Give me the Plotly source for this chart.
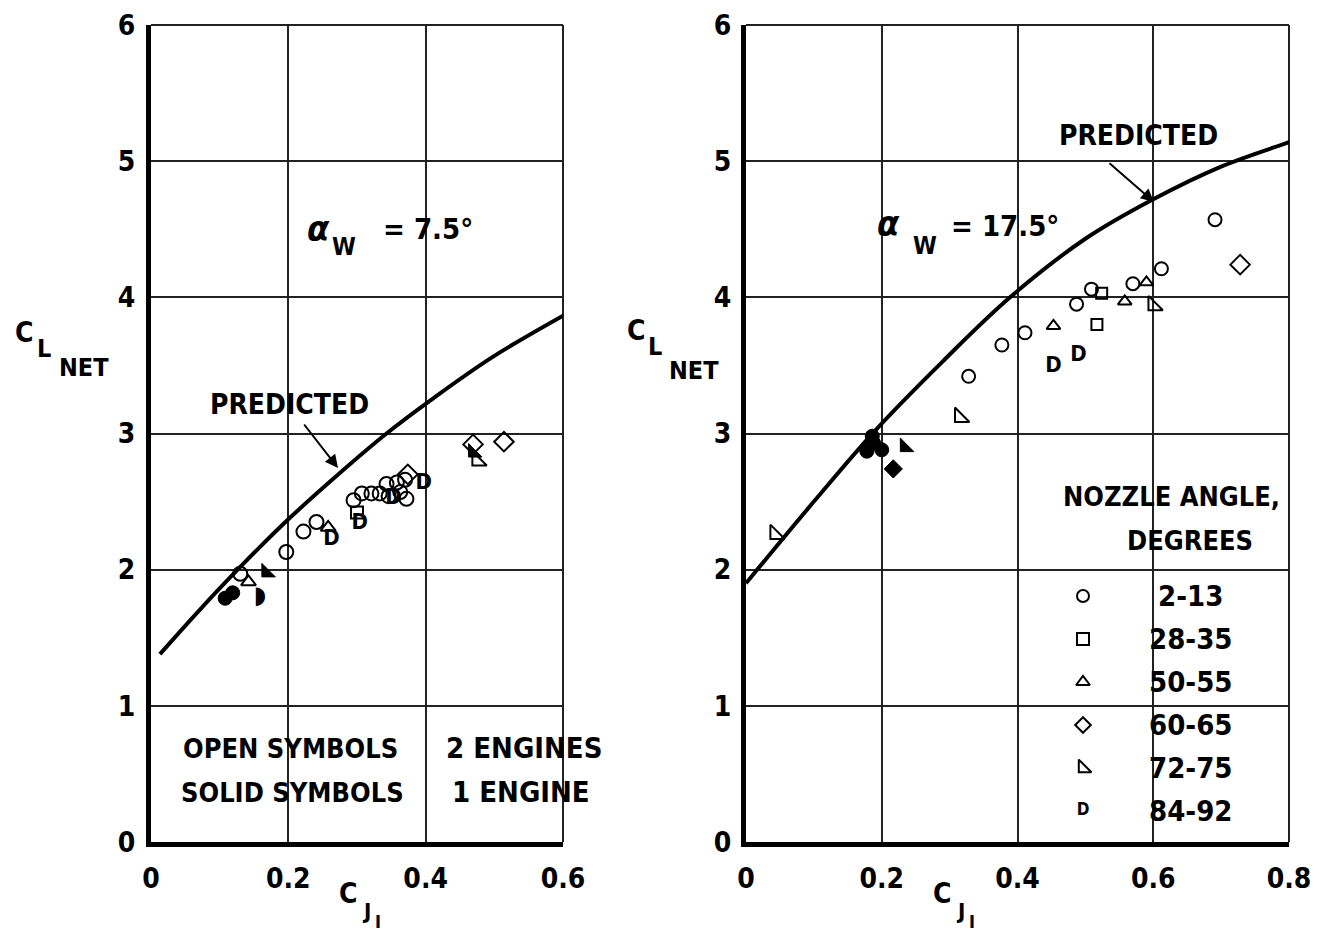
import plotly.graph_objects as go

W, H = 1326, 935
FONT = "DejaVu Sans Condensed, DejaVu Sans, sans-serif"

# ---------------- data: left panel (alpha_w = 7.5 deg) ----------------
a_pred_x = [0.013, 0.07, 0.13, 0.20, 0.275, 0.343, 0.406, 0.50, 0.623]
a_pred_y = [1.38, 1.70, 2.02, 2.37, 2.71, 3.00, 3.24, 3.57, 3.93]

a_circle_x = [0.130, 0.197, 0.222, 0.241, 0.295, 0.307, 0.321, 0.333, 0.346, 0.343, 0.358, 0.363, 0.372, 0.370]
a_circle_y = [1.97, 2.13, 2.28, 2.35, 2.51, 2.56, 2.56, 2.56, 2.54, 2.63, 2.64, 2.57, 2.52, 2.66]
a_square_x = [0.300]
a_square_y = [2.42]
a_tri_x = [0.142, 0.258]
a_tri_y = [1.91, 2.31]
a_diamond_x = [0.374, 0.469, 0.514]
a_diamond_y = [2.70, 2.92, 2.94]
a_rtri_x = [0.475]
a_rtri_y = [2.80]
a_d_x = [0.263, 0.304, 0.353, 0.397]
a_d_y = [2.22, 2.34, 2.52, 2.63]
# solid symbols (1 engine)
a_s_circle_x = [0.108, 0.119]
a_s_circle_y = [1.79, 1.83]
a_s_rtri_x = [0.168, 0.469]
a_s_rtri_y = [1.98, 2.86]
a_s_d_x = [0.159]
a_s_d_y = [1.80]

# ---------------- data: right panel (alpha_w = 17.5 deg) ----------------
b_pred_x = [0.0, 0.10, 0.19, 0.29, 0.389, 0.50, 0.60, 0.70, 0.80, 0.855]
b_pred_y = [1.90, 2.50, 3.02, 3.53, 4.00, 4.43, 4.72, 4.96, 5.14, 5.24]

b_circle_x = [0.328, 0.377, 0.411, 0.487, 0.509, 0.570, 0.612, 0.691]
b_circle_y = [3.42, 3.65, 3.74, 3.95, 4.06, 4.10, 4.21, 4.57]
b_square_x = [0.517, 0.524]
b_square_y = [3.80, 4.03]
b_tri_x = [0.453, 0.558, 0.590]
b_tri_y = [3.79, 3.97, 4.11]
b_diamond_x = [0.728]
b_diamond_y = [4.24]
b_rtri_x = [0.043, 0.315, 0.600, 0.836]
b_rtri_y = [2.26, 3.12, 3.94, 4.73]
b_d_x = [0.453, 0.490]
b_d_y = [3.49, 3.57]
# solid symbols
b_s_circle_x = [0.178, 0.188, 0.200, 0.186]
b_s_circle_y = [2.87, 2.93, 2.88, 2.98]
b_s_rtri_x = [0.234]
b_s_rtri_y = [2.90]
b_s_diamond_x = [0.217]
b_s_diamond_y = [2.74]

legend_labels = ["2-13", "28-35", "50-55", "60-65", "72-75", "84-92"]
legend_symbols = ["circle-open", "square-open", "triangle-up-open", "diamond-open", "triangle-sw-open", "D"]

x_ticks_a = [0, 0.2, 0.4, 0.6]
x_ticks_b = [0, 0.2, 0.4, 0.6, 0.8]
y_ticks = [0, 1, 2, 3, 4, 5, 6]

fig = go.Figure()


def fnt(size, weight=700, family=FONT):
    return dict(family=family, size=size, color="black", weight=weight)


def open_marker(x, y, symbol, size, axes, clip=True):
    fig.add_trace(go.Scatter(
        x=x, y=y, mode="markers", xaxis=axes[0], yaxis=axes[1], cliponaxis=clip,
        marker=dict(symbol=symbol, size=size, color="black", line=dict(color="black", width=2)),
        showlegend=False, hoverinfo="skip"))


def solid_marker(x, y, symbol, size, axes):
    fig.add_trace(go.Scatter(
        x=x, y=y, mode="markers", xaxis=axes[0], yaxis=axes[1], cliponaxis=False,
        marker=dict(symbol=symbol, size=size, color="black", line=dict(color="black", width=1)),
        showlegend=False, hoverinfo="skip"))


def d_marker(x, y, axes, solid=False, size=22):
    fig.add_trace(go.Scatter(
        x=x, y=y, mode="text", xaxis=axes[0], yaxis=axes[1], cliponaxis=False,
        text=["◗" if solid else "D"] * len(x), textposition="middle center",
        textfont=fnt(size, weight=400 if solid else 700,
                     family="DejaVu Sans" if solid else FONT),
        showlegend=False, hoverinfo="skip"))


A = ("x", "y")
B = ("x2", "y2")

# predicted curves
fig.add_trace(go.Scatter(x=a_pred_x, y=a_pred_y, mode="lines", xaxis="x", yaxis="y",
                         line=dict(color="black", width=4, shape="spline", smoothing=1),
                         cliponaxis=False, showlegend=False, hoverinfo="skip"))
fig.add_trace(go.Scatter(x=b_pred_x, y=b_pred_y, mode="lines", xaxis="x2", yaxis="y2",
                         line=dict(color="black", width=4, shape="spline", smoothing=1),
                         cliponaxis=False, showlegend=False, hoverinfo="skip"))

# left panel points
open_marker(a_circle_x, a_circle_y, "circle-open", 14, A)
open_marker(a_square_x, a_square_y, "square-open", 12, A)
open_marker(a_tri_x, a_tri_y, "triangle-up-open", 13, A)
open_marker(a_diamond_x, a_diamond_y, "diamond-open", 15, A)
open_marker(a_rtri_x, a_rtri_y, "triangle-sw-open", 16, A)
d_marker(a_d_x, a_d_y, A)
solid_marker(a_s_circle_x, a_s_circle_y, "circle", 14, A)
solid_marker(a_s_rtri_x, a_s_rtri_y, "triangle-sw", 15, A)
d_marker(a_s_d_x, a_s_d_y, A, solid=True, size=24)

# right panel points
open_marker(b_circle_x, b_circle_y, "circle-open", 13, B)
open_marker(b_square_x, b_square_y, "square-open", 11, B)
open_marker(b_tri_x, b_tri_y, "triangle-up-open", 12, B)
open_marker(b_diamond_x, b_diamond_y, "diamond-open", 15, B)
open_marker(b_rtri_x, b_rtri_y, "triangle-sw-open", 16, B, clip=False)
d_marker(b_d_x, b_d_y, B)
solid_marker(b_s_circle_x, b_s_circle_y, "circle", 14, B)
solid_marker(b_s_rtri_x, b_s_rtri_y, "triangle-sw", 15, B)
solid_marker(b_s_diamond_x, b_s_diamond_y, "diamond", 14, B)

# ---- layout geometry (pixels) ----
LX0, LX1 = 151, 563
RX0, RX1 = 746, 1289
Y0, Y1 = 842, 25


def px(v):
    return v / W


def py(v):
    return 1 - v / H


# legend key symbols in right panel (positions derived from row layout)
leg_x_px = 1083
leg_row0, leg_step = 596, 43
leg_xd = (leg_x_px - RX0) / (RX1 - RX0) * 0.8
for i, (lab, sym) in enumerate(zip(legend_labels, legend_symbols)):
    yd = (Y0 - (leg_row0 + i * leg_step)) / (Y0 - Y1) * 6
    if sym == "D":
        d_marker([leg_xd], [yd], B, size=17)
    else:
        open_marker([leg_xd], [yd], sym, 12 if sym != "triangle-sw-open" else 14, B)

axis_common = dict(
    showline=True, linewidth=5, linecolor="black", mirror=False,
    showgrid=True, gridcolor="#222", gridwidth=1.5, zeroline=False,
    ticks="outside", tickcolor="rgba(0,0,0,0)",
    tickfont=fnt(28), automargin=False,
    fixedrange=True,
)

fig.update_layout(
    width=W, height=H, margin=dict(l=0, r=0, t=0, b=0, autoexpand=False),
    paper_bgcolor="white", plot_bgcolor="white", showlegend=False,
    xaxis=dict(domain=[px(LX0), px(LX1)], range=[0, 0.6], tickvals=x_ticks_a, ticklen=7,
               ticktext=["0", "0.2", "0.4", "0.6"], anchor="y", **axis_common),
    yaxis=dict(domain=[py(Y0), py(Y1)], range=[0, 6], tickvals=y_ticks, ticklen=5,
               anchor="x", **axis_common),
    xaxis2=dict(domain=[px(RX0), px(RX1)], range=[0, 0.8], tickvals=x_ticks_b, ticklen=7,
                ticktext=["0", "0.2", "0.4", "0.6", "0.8"], anchor="y2", **axis_common),
    yaxis2=dict(domain=[py(Y0), py(Y1)], range=[0, 6], tickvals=y_ticks, ticklen=4,
                anchor="x2", **axis_common),
)

# borders (thin top and right)
shapes = []
for xr, yr in (("x domain", "y domain"), ("x2 domain", "y2 domain")):
    shapes.append(dict(type="line", xref=xr, yref=yr, x0=0, x1=1, y0=1, y1=1,
                       line=dict(color="#222", width=2), layer="below"))
    shapes.append(dict(type="line", xref=xr, yref=yr, x0=1, x1=1, y0=0, y1=1,
                       line=dict(color="#222", width=2), layer="below"))
# scan gap in the left axis line
shapes.append(dict(type="rect", xref="x", yref="y", x0=-0.009, x1=0.009, y0=5.42, y1=5.58,
                   fillcolor="white", line=dict(width=0), layer="above"))
fig.update_layout(shapes=shapes)


def ann(text, x, y, size, xanchor="center", weight=700):
    return dict(xref="paper", yref="paper", x=px(x), y=py(y), text=text, showarrow=False,
                xanchor=xanchor, yanchor="middle", font=fnt(size, weight))


annotations = [
    # y-axis titles
    ann("C", 24, 332, 28), ann("L", 44, 348, 25), ann("NET", 84, 367, 25),
    ann("C", 636, 330, 28), ann("L", 655, 346, 25), ann("NET", 694, 371, 25),
    # x-axis titles
    ann("C", 348, 893, 28), ann("J", 366, 911, 22), ann("I", 378, 921, 18),
    ann("C", 942, 893, 28), ann("J", 960, 911, 22), ann("I", 972, 921, 18),
    # alpha labels
    ann("<i>α</i>", 318, 229, 36), ann("W", 344, 247, 24), ann("= 7.5°", 428, 229, 29),
    ann("<i>α</i>", 889, 223, 36), ann("W", 925, 246, 24), ann("= 17.5°", 1005, 226, 29),
    # predicted labels
    ann("PREDICTED", 289, 405, 28), ann("PREDICTED", 1138, 135, 28),
    # left legend
    ann("OPEN SYMBOLS", 290, 748, 27), ann("2 ENGINES", 524, 748, 29),
    ann("SOLID SYMBOLS", 292, 792, 27), ann("1 ENGINE", 521, 792, 29),
    # right legend
    ann("NOZZLE ANGLE,", 1171, 497, 27), ann("DEGREES", 1190, 540, 27),
]
for i, lab in enumerate(legend_labels):
    annotations.append(ann(lab, 1190, leg_row0 + i * leg_step, 29))

# arrows pointing at the predicted curves
annotations.append(dict(xref="paper", yref="paper", x=px(338), y=py(468), ax=-35, ay=-45,
                        axref="pixel", ayref="pixel", text="", showarrow=True,
                        arrowhead=2, arrowsize=1.3, arrowwidth=2, arrowcolor="black"))
annotations.append(dict(xref="paper", yref="paper", x=px(1154), y=py(202), ax=-46, ay=-40,
                        axref="pixel", ayref="pixel", text="", showarrow=True,
                        arrowhead=2, arrowsize=1.3, arrowwidth=2, arrowcolor="black"))
fig.update_layout(annotations=annotations)

fig.write_html("out.html")
